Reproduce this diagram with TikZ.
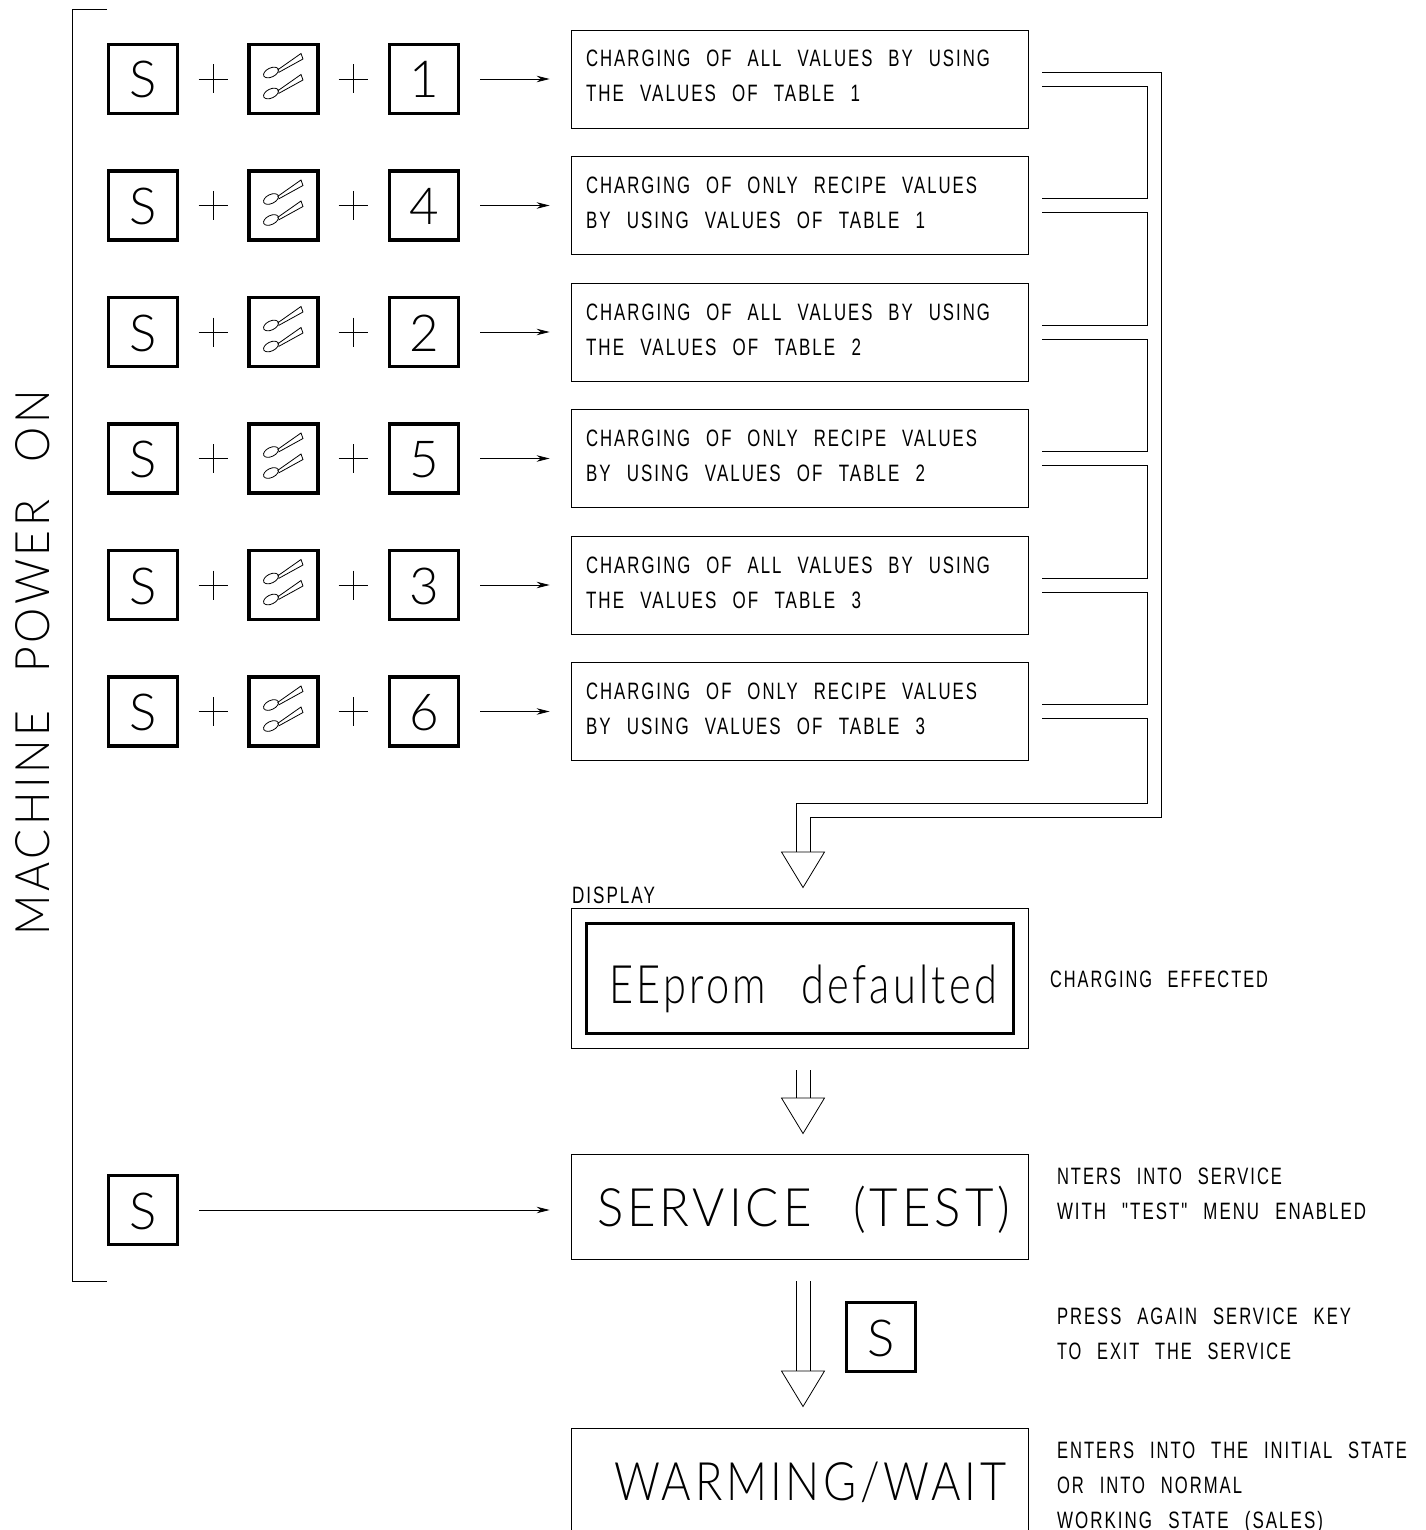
\documentclass[tikz,border=0pt]{standalone}
\usepackage{fontspec}
\usepackage{graphicx}
\usetikzlibrary{arrows.meta}
\newfontfamily\cadsmall[LetterSpace=12,WordSpace=2.4]{Liberation Sans}
\newfontfamily\cadthin[LetterSpace=8,WordSpace=2.4]{Lato Light}
% exact width and cap-scale fit of one line of text
\newcommand\fitline[4]{\resizebox{#2pt}{#3pt}{\raisebox{0pt}[1em][0pt]{#1#4}}}
\newcommand\smalltext[2]{\fitline{\cadsmall}{#1}{23.7}{#2}}
\newcommand\bigtext[2]{\fitline{\cadthin}{#1}{53}{#2}}
\newcommand\downtri[1]{\draw[thinline] ([xshift=-21.5pt]#1) -- ([xshift=21.5pt]#1) -- ([yshift=-35.5pt]#1) -- cycle;}
\newcommand\spoon[2]{%
  \draw[thinline,shift={(#1,#2)}] (-12.5,-6.5) ellipse[x radius=8, y radius=4.5, rotate=26];
  \draw[thinline,shift={(#1,#2)}] (-6,-9) -- (17.5,-25.5) -- (19.5,-20) -- (-5,-6.5);}
\tikzset{
  thinline/.style={line width=0.8pt,black},
  keybox/.style={draw,line width=3.4pt,minimum size=68.8pt,inner sep=0pt},
  infobox/.style={draw,line width=0.8pt,minimum width=457pt,inner sep=0pt},
  txt/.style={anchor=base west,inner sep=0pt,outer sep=0pt},
  keytxt/.style={anchor=base,inner sep=0pt,outer sep=0pt,font=\cadthin\fontsize{51}{51}\selectfont},
  pointer/.style={thinline,-{Stealth[length=13pt,width=6.5pt]}},
}
\begin{document}
\begin{tikzpicture}[x=1pt,y=-1pt]
\useasboundingbox (0,0) rectangle (1425,1530);
% bracket and side label
\coordinate (brT) at (107,9);
\coordinate (brB) at (107,1281);
\coordinate (brX) at (72,0);
\draw[thinline] (brT) -- (brX |- brT) -- (brX |- brB) -- (brB);
\node[txt,rotate=90] (machine) at (49,935) {\fitline{\cadthin}{545}{47.5}{MACHINE POWER ON}};
% rows
\foreach \i/\y/\d/\ta/\wa/\tb/\wb in {
 1/79/1/CHARGING OF ALL VALUES BY USING/404/THE VALUES OF TABLE 1/274,
 2/205.5/4/CHARGING OF ONLY RECIPE VALUES/391/BY USING VALUES OF TABLE 1/339,
 3/332/2/CHARGING OF ALL VALUES BY USING/404/THE VALUES OF TABLE 2/275,
 4/458.5/5/CHARGING OF ONLY RECIPE VALUES/391/BY USING VALUES OF TABLE 2/339,
 5/585/3/CHARGING OF ALL VALUES BY USING/404/THE VALUES OF TABLE 3/275,
 6/711.5/6/CHARGING OF ONLY RECIPE VALUES/391/BY USING VALUES OF TABLE 3/339}{
  \node[keybox] (ks\i) at (143,\y) {};
  \node[keytxt] (ksl\i) at (143,\y+19) {S};
  \node[keybox] (kc\i) at (283.5,\y) {};
  \spoon{283.5}{\y}
  \spoon{283.5}{\y+21}
  \node[keybox] (kn\i) at (424,\y) {};
  \node[keytxt] (knl\i) at (424,\y+19) {\d};
  \draw[thinline] (198.5,\y) -- (227.5,\y) (213,\y-14.5) -- (213,\y+14.5);
  \draw[thinline] (338.5,\y) -- (367.5,\y) (353,\y-14.5) -- (353,\y+14.5);
  \node[infobox,minimum height=98pt] (b\i) at (799.5,\y) {};
  \node[txt] (ta\i) at (586,\y-12) {\smalltext{\wa}{\ta}};
  \node[txt] (tb\i) at (586,\y+23) {\smalltext{\wb}{\tb}};
  \draw[pointer] ([xshift=20pt]kn\i.east) -- ([xshift=-21pt]b\i.west);
  \coordinate (cu\i) at ([xshift=14pt,yshift=7pt]b\i.east);
  \coordinate (cd\i) at ([xshift=14pt,yshift=-7pt]b\i.east);
}
% double connectors
\coordinate (rail) at (1147,0);
\coordinate (railo) at (1161,0);
\foreach \i/\j in {1/2,2/3,3/4,4/5,5/6}{
  \draw[thinline] (cd\i) -- (rail |- cd\i) -- (rail |- cu\j) -- (cu\j);
}
\coordinate (tri1) at (803,852);
\coordinate (inL) at (796,803);
\coordinate (inR) at (810,817);
\draw[thinline] (cd6) -- (rail |- cd6) -- (rail |- inL) -- (inL) -- (inL |- tri1);
\draw[thinline] (cu1) -- (railo |- cu1) -- (railo |- inR) -- (inR) -- (inR |- tri1);
\downtri{tri1}
% display
\node[txt] (disp) at (572,903) {\smalltext{83}{DISPLAY}};
\node[infobox,minimum height=140pt] (dbox) at (799.5,978) {};
\node[draw,line width=3.4pt,minimum width=426.6pt,minimum height=109.6pt,inner sep=0pt] (dinner) at (800,978.5) {};
\node[txt] (eep) at (609,1003) {\bigtext{388}{EEprom defaulted}};
\node[txt] (eff) at (1050,987) {\smalltext{218}{CHARGING EFFECTED}};
% arrow 2
\coordinate (tri2) at (803,1098);
\coordinate (a2L) at (796,1070);
\coordinate (a2R) at (810,1070);
\draw[thinline] (a2L) -- (a2L |- tri2) (a2R) -- (a2R |- tri2);
\downtri{tri2}
% service
\node[keybox] (ks7) at (143,1210) {};
\node[keytxt] (ksl7) at (143,1229) {S};
\node[infobox,minimum height=105pt] (sbox) at (799.5,1206.5) {};
\draw[pointer] ([xshift=20pt]ks7.east) -- ([xshift=-21pt,yshift=-3.5pt]sbox.west);
\node[txt] (stxt) at (597,1226) {\bigtext{413}{SERVICE (TEST)}};
\node[txt] (nt1) at (1057,1184) {\smalltext{225}{NTERS INTO SERVICE}};
\node[txt] (nt2) at (1057,1219) {\smalltext{309}{WITH "TEST" MENU ENABLED}};
% arrow 3
\coordinate (tri3) at (803,1371);
\coordinate (a3L) at (796,1281);
\coordinate (a3R) at (810,1281);
\draw[thinline] (a3L) -- (a3L |- tri3) (a3R) -- (a3R |- tri3);
\downtri{tri3}
\node[keybox] (ks8) at (881,1337) {};
\node[keytxt] (ksl8) at (881,1356) {S};
\node[txt] (pr1) at (1057,1324) {\smalltext{294}{PRESS AGAIN SERVICE KEY}};
\node[txt] (pr2) at (1057,1359) {\smalltext{234}{TO EXIT THE SERVICE}};
% warming
\coordinate (wTL) at (571,1428);
\coordinate (wTR) at (1028,1428);
\draw[thinline] (571,1531) -- (wTL) -- (wTR) -- (1028,1531);
\node[txt] (wtxt) at (614,1500) {\bigtext{392}{WARMING/WAIT}};
\node[txt] (en1) at (1057,1458) {\smalltext{350}{ENTERS INTO THE INITIAL STATE}};
\node[txt] (en2) at (1057,1493) {\smalltext{185}{OR INTO NORMAL}};
\node[txt] (en3) at (1057,1528) {\smalltext{266}{WORKING STATE (SALES)}};
\end{tikzpicture}
\end{document}
